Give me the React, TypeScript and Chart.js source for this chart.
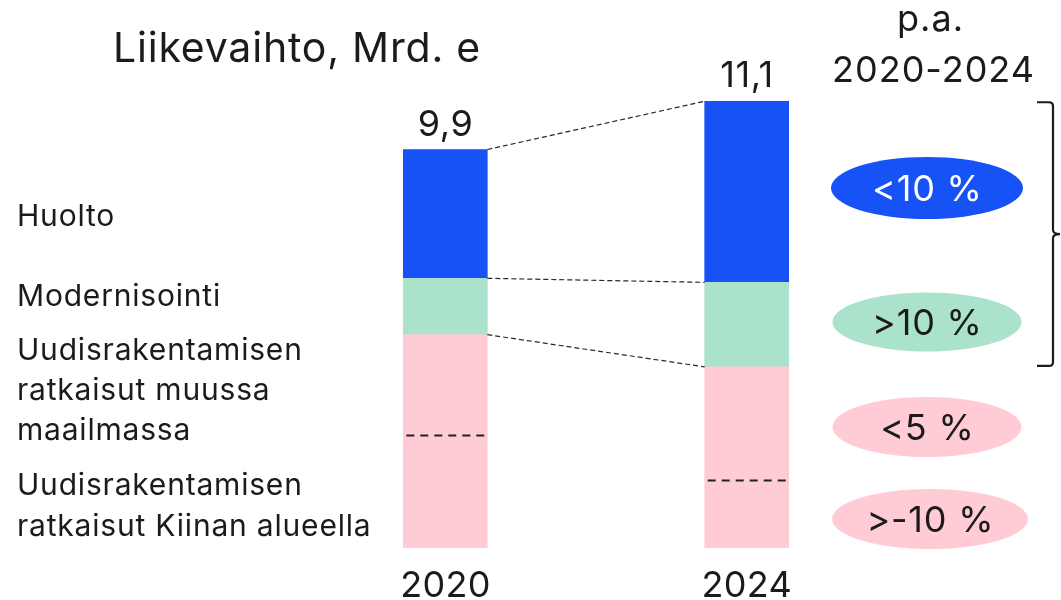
import { useEffect, useRef } from "react";
import { Chart, registerables } from "chart.js";

Chart.register(...registerables);

// ---------- data ----------
const categories = ["2020", "2024"];
const kiina = [2.8, 1.7];
const muuMaailma = [2.5, 2.8];
const modernisointi = [1.4, 2.1];
const huolto = [3.2, 4.5];
const totalLabels = ["9,9", "11,1"];
const title = "Liikevaihto, Mrd. e";
const growthHeader = ["p.a.", "2020-2024"];
const growthLabels = ["<10 %", ">10 %", "<5 %", ">-10 %"];
const segmentNames = [
  ["Huolto"],
  ["Modernisointi"],
  ["Uudisrakentamisen", "ratkaisut muussa", "maailmassa"],
  ["Uudisrakentamisen", "ratkaisut Kiinan alueella"],
];

// ---------- styles / layout ----------
const BLUE = "#1652F6";
const GREEN = "#ABE2CB";
const PINK = "#FFCCD6";
const TEXT = "#1b1b1b";
const FONT = "Inter, 'Noto Sans', sans-serif";

const nameBaselines = [[226], [306], [360, 400, 440], [495, 536]];
const growthEllipses = [
  { cx: 927, cy: 188, rx: 96, ry: 31, fill: BLUE, color: "#ffffff" },
  { cx: 927, cy: 322, rx: 94.5, ry: 29.5, fill: GREEN, color: TEXT },
  { cx: 927, cy: 427, rx: 94.5, ry: 30, fill: PINK, color: TEXT },
  { cx: 930, cy: 519, rx: 98, ry: 30, fill: PINK, color: TEXT },
];

function centerText(ctx: CanvasRenderingContext2D, s: string, cx: number, y: number, spacing: number) {
  (ctx as any).letterSpacing = `${spacing}px`;
  const w = ctx.measureText(s).width - spacing;
  ctx.textAlign = "left";
  ctx.fillText(s, cx - w / 2, y);
}

const overlayPlugin = {
  id: "overlay",
  afterDatasetsDraw(chart: any) {
    const ctx = chart.ctx as CanvasRenderingContext2D;
    const x = chart.scales.x;
    const y = chart.scales.y;
    const half = 42;
    ctx.save();
    // dashed separators between Kiina and rest of world
    ctx.strokeStyle = "#222";
    ctx.lineWidth = 2;
    ctx.setLineDash([8, 6]);
    categories.forEach((_, i) => {
      const cx = x.getPixelForValue(i);
      const yy = Math.round(y.getPixelForValue(kiina[i])) + 0.5;
      ctx.beginPath();
      ctx.moveTo(cx - half + 3, yy);
      ctx.lineTo(cx + half - 3, yy);
      ctx.stroke();
    });
    // connectors
    ctx.strokeStyle = "#2a2a2a";
    ctx.lineWidth = 1.2;
    ctx.setLineDash([5, 3]);
    const levels = (i: number) => [
      kiina[i] + muuMaailma[i],
      kiina[i] + muuMaailma[i] + modernisointi[i],
      kiina[i] + muuMaailma[i] + modernisointi[i] + huolto[i],
    ];
    const a = levels(0);
    const b = levels(1);
    const x0 = x.getPixelForValue(0) + half;
    const x1 = x.getPixelForValue(1) - half;
    for (let k = 0; k < a.length; k++) {
      ctx.beginPath();
      ctx.moveTo(x0, y.getPixelForValue(a[k]));
      ctx.lineTo(x1, y.getPixelForValue(b[k]));
      ctx.stroke();
    }
    ctx.setLineDash([]);

    // bracket spanning 2024 huolto + modernisointi
    const top = y.getPixelForValue(b[2]);
    const bot = y.getPixelForValue(b[0]);
    const mid = (top + bot) / 2;
    const bx = 1053;
    ctx.strokeStyle = "#1b1b1b";
    ctx.lineWidth = 2.2;
    ctx.beginPath();
    ctx.moveTo(1037, top + 1);
    ctx.lineTo(bx - 4, top + 1);
    ctx.quadraticCurveTo(bx, top + 1, bx, top + 5);
    ctx.lineTo(bx, mid - 4);
    ctx.quadraticCurveTo(bx, mid, bx + 7, mid);
    ctx.quadraticCurveTo(bx, mid, bx, mid + 4);
    ctx.lineTo(bx, bot - 5);
    ctx.quadraticCurveTo(bx, bot - 1, bx - 4, bot - 1);
    ctx.lineTo(1037, bot - 1);
    ctx.stroke();

    // text
    ctx.fillStyle = TEXT;
    ctx.textBaseline = "alphabetic";
    ctx.textAlign = "left";
    ctx.font = `41px ${FONT}`;
    (ctx as any).letterSpacing = "0.8px";
    ctx.fillText(title, 113, 62);

    ctx.font = `30px ${FONT}`;
    (ctx as any).letterSpacing = "0.8px";
    segmentNames.forEach((lines, i) => {
      lines.forEach((ln, j) => ctx.fillText(ln, 17, nameBaselines[i][j]));
    });

    ctx.font = `36px ${FONT}`;
    categories.forEach((c, i) => {
      const cx = x.getPixelForValue(i);
      centerText(ctx, c, cx, 597, 0.3);
      const total = kiina[i] + muuMaailma[i] + modernisointi[i] + huolto[i];
      centerText(ctx, totalLabels[i], cx, y.getPixelForValue(total) - 14, 0.5);
    });

    centerText(ctx, growthHeader[0], 930, 31, 1);
    centerText(ctx, growthHeader[1], 933, 82, 1);

    growthEllipses.forEach((e, i) => {
      ctx.fillStyle = e.fill;
      ctx.beginPath();
      ctx.ellipse(e.cx, e.cy, e.rx, e.ry, 0, 0, Math.PI * 2);
      ctx.fill();
      ctx.fillStyle = e.color;
      ctx.font = `36px ${FONT}`;
      centerText(ctx, growthLabels[i], e.cx, e.cy + 13, 0.8);
    });
    ctx.restore();
  },
};

export default function App() {
  const ref = useRef<HTMLCanvasElement | null>(null);
  useEffect(() => {
    document.body.style.margin = "0";
    if (!ref.current) return;
    const chart = new Chart(ref.current, {
      type: "bar",
      data: {
        labels: categories,
        datasets: [
          { label: "Kiina", data: kiina, backgroundColor: PINK },
          { label: "Muu maailma", data: muuMaailma, backgroundColor: PINK },
          { label: "Modernisointi", data: modernisointi, backgroundColor: GREEN },
          { label: "Huolto", data: huolto, backgroundColor: BLUE },
        ],
      },
      options: {
        animation: false,
        responsive: false,
        maintainAspectRatio: false,
        devicePixelRatio: 1,
        layout: { padding: { left: 294.6, right: 1061 - 897.4, top: 65, bottom: 52 } },
        datasets: { bar: { barThickness: 84, borderWidth: 0 } },
        plugins: { legend: { display: false }, tooltip: { enabled: false }, title: { display: false } },
        scales: {
          x: { display: false, stacked: true, offset: true },
          y: { display: false, stacked: true, min: 0, max: 12 },
        },
      },
      plugins: [overlayPlugin],
    });
    return () => chart.destroy();
  }, []);
  return (
    <div style={{ position: "absolute", left: 0, top: 0, width: 1061, height: 600, background: "#fff" }}>
      <canvas ref={ref} width={1061} height={600} />
    </div>
  );
}
